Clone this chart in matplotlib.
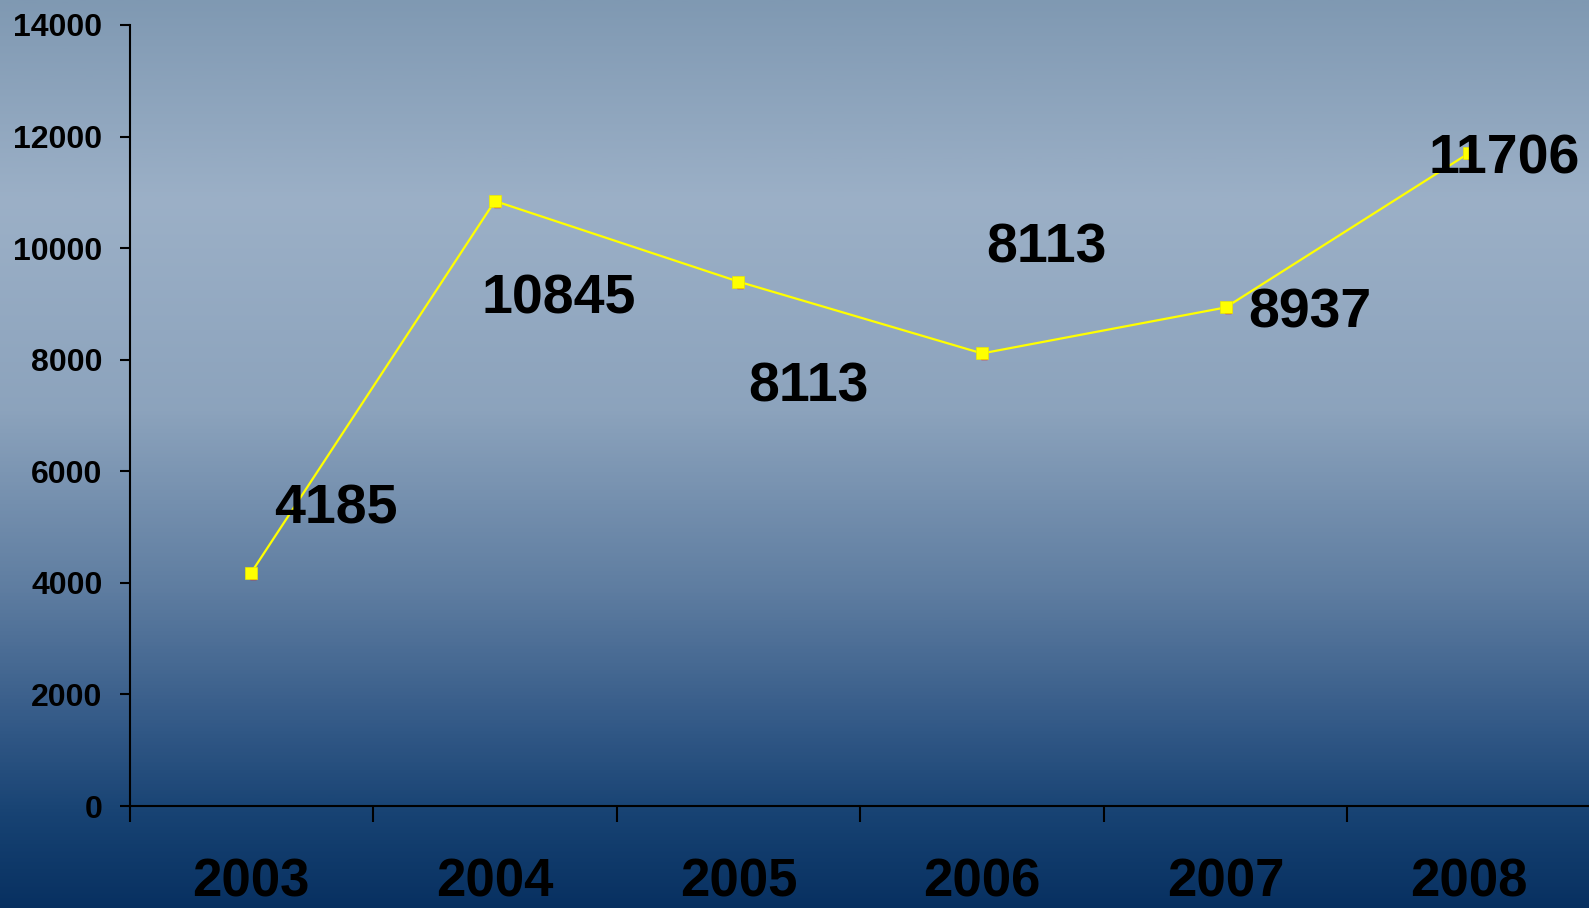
import numpy as np
import matplotlib
matplotlib.use("Agg")
import matplotlib.pyplot as plt
import matplotlib.transforms as mtransforms
from matplotlib.colors import LinearSegmentedColormap

years = ["2003", "2004", "2005", "2006", "2007", "2008"]
values = [4185, 10845, 9400, 8113, 8937, 11706]
labels = ["4185", "10845", "8113", "8113", "8937", "11706"]
label_offsets = [(85, 63), (64, -98), (70, -106), (64, 105), (84, -6), (35, -7)]  # pixels

plt.rcParams['font.family'] = ['Liberation Sans', 'DejaVu Sans']

W, H = 1589, 908
fig = plt.figure(figsize=(W / 100, H / 100), dpi=100)

# background gradient
bg = fig.add_axes([0, 0, 1, 1], zorder=0)
bg.axis('off')
stops = [(0.0, (0.50, 0.60, 0.70)),
         (0.22, (0.61, 0.69, 0.78)),
         (0.45, (0.55, 0.64, 0.74)),
         (0.65, (0.37, 0.49, 0.63)),
         (0.80, (0.20, 0.35, 0.53)),
         (0.90, (0.09, 0.26, 0.45)),
         (1.0, (0.03, 0.19, 0.38))]
cmap = LinearSegmentedColormap.from_list("bg", stops)
grad = np.linspace(0, 1, 512).reshape(-1, 1)
bg.imshow(grad, aspect='auto', cmap=cmap, extent=[0, 1, 0, 1], origin='upper')
bg.set_xlim(0, 1)
bg.set_ylim(0, 1)

left = 129.5 / W
bottom = 1 - 806 / H
top = 1 - 25 / H
ax = fig.add_axes([left, bottom, 1.0 - left + 2 / W, top - bottom], zorder=1)
ax.patch.set_alpha(0)

x = np.arange(len(years)) + 0.5
# red shadow marker
shadow = ax.transData + mtransforms.ScaledTranslation(2 / 100, -3 / 100, fig.dpi_scale_trans)
ax.plot(x, values, linestyle='none', marker='s', markersize=5, color='red', transform=shadow, zorder=2)
ax.plot(x, values, color='#ffff00', linewidth=1.6, marker='s', markersize=9,
        markerfacecolor='#ffff00', markeredgecolor='#e8e800', markeredgewidth=0.5, zorder=3)

for xi, v, lab, (dx, dy) in zip(x, values, labels, label_offsets):
    ax.annotate(lab, (xi, v), xytext=(dx, dy), textcoords='offset pixels',
                ha='center', va='center', fontsize=40, fontweight='bold', color='black', zorder=4)

ax.set_xlim(0, len(years))
ax.set_ylim(0, 14000)
ax.set_yticks(np.arange(0, 14001, 2000))
ax.set_yticklabels([str(v) for v in range(0, 14001, 2000)], fontsize=23, fontweight='bold')
ax.set_xticks(np.arange(0, len(years) + 1))
ax.set_xticklabels([])
ax.set_xticks(x, minor=True)
ax.set_xticklabels(years, minor=True, fontsize=38, fontweight='bold')
ax.tick_params(axis='x', which='minor', length=0, pad=37)
ax.tick_params(axis='x', which='major', direction='out', length=11.5, width=1.5, color='black')
ax.tick_params(axis='y', direction='out', length=7.5, width=1.5, color='black', pad=12)

for s in ['top', 'right']:
    ax.spines[s].set_visible(False)
for s in ['left', 'bottom']:
    ax.spines[s].set_linewidth(1.5)
    ax.spines[s].set_color('black')

fig.savefig("out.png", dpi=100)
